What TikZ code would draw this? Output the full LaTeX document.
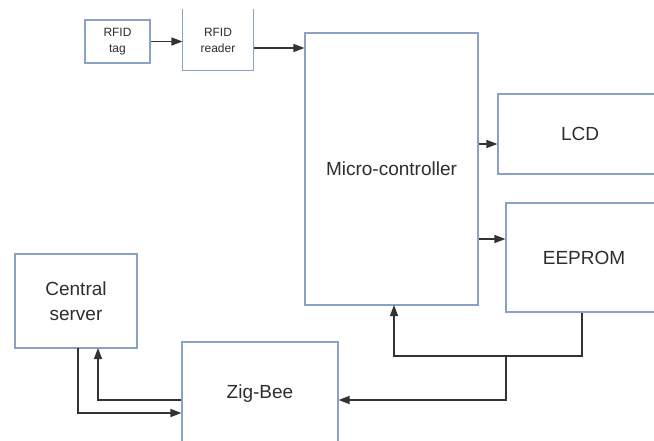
\documentclass[tikz,border=0pt]{standalone}
\usepackage{fontspec}
\setmainfont{Liberation Sans}
\usetikzlibrary{arrows.meta}
\definecolor{boxc}{HTML}{8AA2C4}
\definecolor{txt}{HTML}{2E2E2E}
\definecolor{lnc}{HTML}{333333}
\begin{document}
\begin{tikzpicture}[x=1pt,y=-1pt,
  blk/.style={draw=boxc,line width=1.1pt,fill=white,text=txt,align=center,inner sep=0pt,font=\fontsize{19}{25}\selectfont},
  small/.style={blk,font=\fontsize{12}{16}\selectfont},
  edge/.style={draw=boxc,line width=1.1pt},
  arr/.style={draw=lnc,line width=1.3pt,-{Triangle[length=11pt,width=8pt]}},
  ln/.style={draw=lnc,line width=1.3pt}]
\useasboundingbox (0,0) rectangle (654,441);
\clip (0,0) rectangle (654,441);
\node[small,minimum width=65pt,minimum height=43pt] (tag) at (117.5,41.5) {RFID\\tag};
\node[small,draw=none,minimum width=70pt,minimum height=60pt] (reader) at (218,40) {RFID\\reader};
\draw[edge] (reader.north west) -- (reader.south west) -- (reader.south east) -- (reader.north east);
\node[blk,minimum width=173pt,minimum height=272pt] (micro) at (391.5,169) {Micro-controller};
\node[blk,minimum width=164pt,minimum height=80pt] (lcd) at (580,134) {LCD};
\node[blk,minimum width=156pt,minimum height=109pt] (ee) at (584,257.5) {EEPROM};
\node[blk,minimum width=122pt,minimum height=94pt] (server) at (76,301) {Central\\server};
\node[blk,minimum width=156pt,minimum height=104pt] (zig) at (260,394) {Zig-Bee};
\coordinate (y48) at (0,48);
\coordinate (y144) at (0,144);
\coordinate (y239) at (0,239);
\coordinate (j1) at (506,356);
\coordinate (mcin) at (394,305);
\coordinate (y400) at (0,400);
\coordinate (y413) at (0,413);
\coordinate (sin) at (98,348);
\coordinate (sout) at (78,348);
\draw[arr] (tag.east) -- (tag.east -| reader.west);
\draw[arr] (reader.east |- y48) -- (micro.west |- y48);
\draw[arr] (micro.east |- y144) -- (lcd.west |- y144);
\draw[arr] (micro.east |- y239) -- (ee.west |- y239);
\draw[arr] (ee.south -| 582,0) |- (j1) -| (mcin);
\draw[arr] (j1) |- (zig.east |- y400);
\draw[arr] (zig.west |- y400) -| (sin);
\draw[arr] (sout) |- (zig.west |- y413);
\end{tikzpicture}
\end{document}
